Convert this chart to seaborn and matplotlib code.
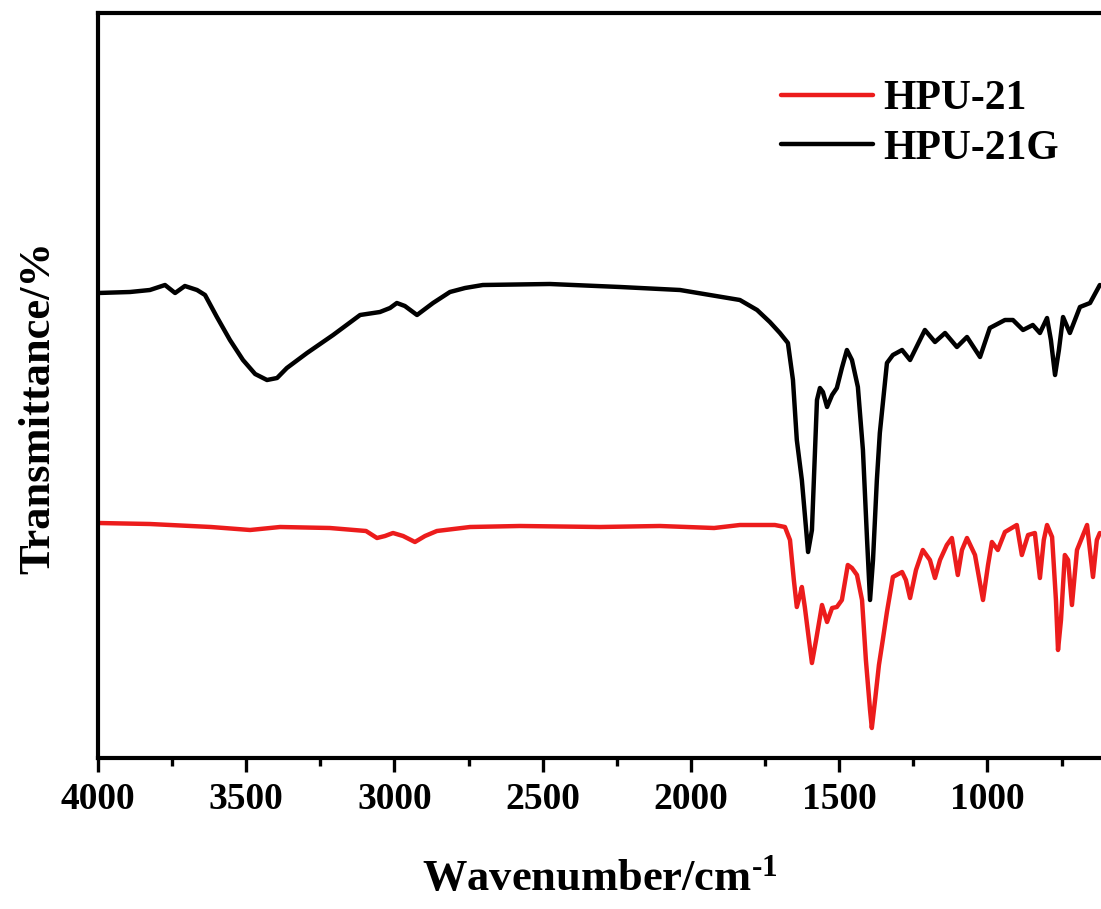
import matplotlib
matplotlib.use("Agg")
import matplotlib.pyplot as plt
from matplotlib.ticker import MultipleLocator, NullLocator
import seaborn as sns
import pandas as pd

# ---- data (wavenumber in cm^-1, transmittance in arbitrary units) ----
hpu21g_wn = [4000, 3892, 3825, 3774, 3740, 3707, 3666, 3639, 3599, 3555, 3511, 3470,
             3430, 3396, 3363, 3295, 3207, 3116, 3049, 3015, 2992, 2965, 2924, 2870,
             2813, 2762, 2702, 2476, 2239, 2037, 1936, 1835, 1777, 1734, 1700, 1673,
             1656, 1643, 1626, 1605, 1592, 1575, 1565, 1555, 1541, 1524, 1508, 1491,
             1474, 1457, 1437, 1420, 1406, 1396, 1386, 1373, 1363, 1339, 1319, 1288,
             1261, 1211, 1177, 1143, 1103, 1069, 1025, 992, 941, 914, 880, 847, 823,
             799, 786, 772, 759, 745, 722, 688, 654, 621]
hpu21g_t = [465, 466, 468, 473, 465, 472, 468, 463, 441, 418, 398, 384,
            378, 380, 390, 405, 423, 443, 446, 450, 455, 452, 443, 455,
            466, 470, 473, 474, 471, 468, 463, 458, 448, 436, 425, 415,
            378, 318, 278, 206, 228, 358, 370, 366, 351, 363, 370, 390,
            408, 398, 371, 308, 218, 158, 198, 278, 325, 395, 403, 408,
            398, 428, 416, 425, 411, 421, 401, 430, 438, 438, 428, 433, 425,
            440, 418, 383, 408, 441, 425, 451, 455, 473]

hpu21_wn = [4000, 3825, 3619, 3487, 3386, 3218, 3096, 3059, 3032, 3005, 2971, 2931,
            2897, 2857, 2745, 2577, 2307, 2105, 1922, 1835, 1717, 1683, 1666, 1653,
            1643, 1632, 1626, 1616, 1602, 1592, 1578, 1558, 1541, 1524, 1508, 1491,
            1471, 1457, 1440, 1423, 1410, 1396, 1390, 1379, 1366, 1353, 1339, 1319,
            1288, 1275, 1261, 1241, 1218, 1194, 1177, 1160, 1137, 1120, 1100, 1086,
            1069, 1042, 1015, 998, 985, 965, 941, 901, 884, 863, 840, 823, 810, 799,
            782, 769, 762, 752, 739, 728, 715, 698, 664, 644, 631, 621]
hpu21_t = [235, 234, 231, 228, 231, 230, 227, 220, 222, 225, 222, 216,
           222, 227, 231, 232, 231, 232, 230, 233, 233, 231, 218, 178,
           151, 163, 171, 151, 118, 95, 118, 153, 136, 150, 151, 158,
           193, 190, 183, 158, 98, 48, 30, 58, 93, 118, 146, 181,
           186, 178, 160, 188, 208, 198, 180, 198, 213, 220, 183, 208,
           220, 203, 158, 193, 216, 208, 226, 233, 203, 223, 225, 180, 218, 233,
           221, 158, 108, 138, 203, 198, 153, 208, 233, 181, 218, 225]

labels = ["HPU-21", "HPU-21G"]
colors = ["#ec1c1c", "#000000"]
x_ticks = [4000, 3500, 3000, 2500, 2000, 1500, 1000]

df = pd.concat([
    pd.DataFrame({"wn": hpu21_wn, "T": hpu21_t, "sample": labels[0]}),
    pd.DataFrame({"wn": hpu21g_wn, "T": hpu21g_t, "sample": labels[1]}),
], ignore_index=True)

# ---- style ----
sns.set_style("ticks")
plt.rcParams["font.family"] = ["Liberation Serif", "DejaVu Serif"]
plt.rcParams["font.weight"] = "bold"
plt.rcParams["text.color"] = "black"
plt.rcParams["axes.labelcolor"] = "black"
plt.rcParams["xtick.color"] = "black"
plt.rcParams["ytick.color"] = "black"
plt.rcParams["mathtext.fontset"] = "custom"
plt.rcParams["mathtext.rm"] = "Liberation Serif:bold"
plt.rcParams["mathtext.bf"] = "Liberation Serif:bold"
plt.rcParams["mathtext.default"] = "rm"

W, H = 1101, 909
fig = plt.figure(figsize=(W / 100, H / 100), dpi=100)
ax = fig.add_axes([98 / W, 1 - 758 / H, 1 - 98 / W, (758 - 13) / H])

sns.lineplot(data=df, x="wn", y="T", hue="sample", hue_order=labels,
             palette=colors, estimator=None, sort=False, linewidth=3.2, ax=ax)

ax.set_xlim(4000, 617)
ax.set_ylim(0, 745)
ax.xaxis.set_minor_locator(MultipleLocator(250))
ax.set_xticks(x_ticks)
ax.set_xticklabels([str(t) for t in x_ticks])
ax.yaxis.set_major_locator(NullLocator())
ax.yaxis.set_minor_locator(NullLocator())

for s in ["left", "bottom", "top"]:
    ax.spines[s].set_linewidth(3.0)
    ax.spines[s].set_color("black")
ax.spines["right"].set_visible(False)

ax.tick_params(axis="x", which="major", direction="out", length=10, width=2.4,
               pad=7, labelsize=27, top=False, colors="black")
ax.tick_params(axis="x", which="minor", direction="out", length=6, width=2.4, top=False)
for lab in ax.get_xticklabels():
    lab.set_fontweight("bold")

ax.set_xlabel("Wavenumber/cm$^{\\text{-}1}$", fontsize=32, fontweight="bold",
              color="black", labelpad=30)
ax.set_ylabel("Transmittance/%", fontsize=32, fontweight="bold", color="black")
ax.yaxis.set_label_coords((58 - 98) / 1003, (758 - 408) / 745)

handles, labs = ax.get_legend_handles_labels()
leg = ax.legend(handles, labs, loc="center", bbox_to_anchor=(920 / W, 1 - 124 / H),
                bbox_transform=fig.transFigure, frameon=False,
                prop={"family": "Liberation Serif", "weight": "bold", "size": 30},
                handlelength=2.2, handletextpad=0.25, labelspacing=0.28, borderpad=0)
for ln in leg.get_lines():
    ln.set_linewidth(3.2)
for t in leg.get_texts():
    t.set_color("black")

fig.savefig("out.png", dpi=100)
